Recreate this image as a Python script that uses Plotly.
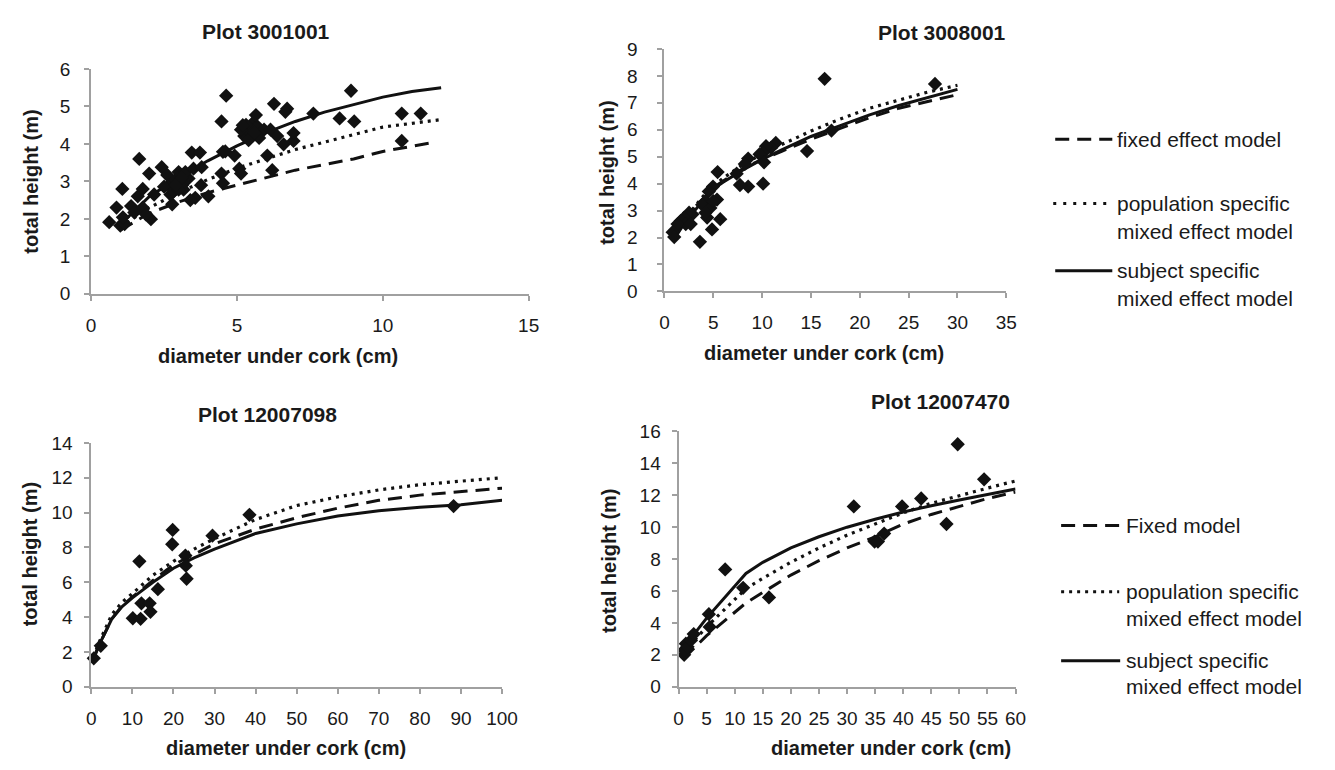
import plotly.graph_objects as go

W, H = 1335, 770
FONT = "Liberation Sans, Arial, sans-serif"
INK = "#111111"
AXC = "#a0a0a0"

def px(x):
    return x / W

def py(y):
    return 1 - y / H

# ---------------- Plot 3001001 ----------------
p1_dia = [0.62, 0.87, 1.07, 1.00, 1.15, 1.09, 1.37, 1.48, 1.65, 1.60, 1.77, 1.77, 1.99, 2.05, 1.88,
          2.16, 2.42, 2.61, 2.78, 2.67, 2.50, 2.72, 2.89, 3.00, 3.12, 3.34, 3.17, 2.83, 3.00, 3.23,
          3.45, 3.73, 3.51, 3.57, 3.79, 3.77, 4.02, 4.47, 4.63, 4.47, 4.52, 4.52, 4.92, 5.08, 5.14,
          5.25, 5.37, 5.53, 5.70, 5.48, 5.31, 5.65, 5.93, 5.76, 5.14, 6.04, 6.21, 6.27, 6.15, 6.38,
          6.60, 6.72, 6.66, 6.94, 6.94, 7.62, 8.52, 8.91, 9.02, 10.65, 10.65, 11.30,
          3.10, 2.90, 5.40, 5.60, 5.20, 3.40, 4.60]
p1_ht = [1.91, 2.30, 2.80, 1.82, 1.86, 2.04, 2.34, 2.17, 3.60, 2.60, 2.80, 2.30, 3.21, 1.99, 2.12,
         2.65, 3.38, 3.17, 2.39, 2.90, 2.86, 2.65, 3.04, 3.25, 2.90, 3.08, 2.78, 2.73, 2.78, 3.25,
         3.77, 3.77, 3.34, 2.56, 3.38, 2.90, 2.60, 4.60, 5.29, 3.21, 2.95, 3.79, 3.69, 3.34, 3.21,
         4.21, 4.38, 4.55, 4.47, 4.29, 4.51, 4.77, 4.38, 4.16, 4.38, 3.69, 3.30, 5.07, 4.38, 4.21,
         3.99, 4.94, 4.86, 4.08, 4.29, 4.81, 4.68, 5.42, 4.60, 4.81, 4.08, 4.81,
         3.10, 2.90, 4.10, 4.30, 4.50, 2.50, 3.80]
p1_line_dia = [1, 2, 3, 4, 5, 6, 7, 8, 9, 10, 11, 12]
p1_subject = [1.85, 2.60, 3.10, 3.55, 3.95, 4.30, 4.60, 4.85, 5.05, 5.25, 5.40, 5.50]
p1_population = [1.78, 2.30, 2.70, 3.05, 3.35, 3.60, 3.85, 4.05, 4.25, 4.45, 4.55, 4.65]
p1_fixed_dia = [1, 2, 3, 4, 5, 6, 7, 8, 9, 10, 11, 11.6]
p1_fixed = [1.70, 2.15, 2.45, 2.70, 2.90, 3.10, 3.30, 3.45, 3.60, 3.80, 3.95, 4.02]

# ---------------- Plot 3008001 ----------------
p2_dia = [16.4, 27.7, 17.1, 14.6, 10.1, 11.4, 10.9, 10.4, 10.1, 9.74, 10.2, 8.57, 8.23, 8.57, 7.73,
          7.39, 5.44, 5.38, 5.71, 4.97, 4.54, 4.20, 3.86, 4.70, 4.37, 4.87, 3.63, 4.20, 2.86, 2.52,
          2.02, 1.68, 2.18, 1.34, 2.69, 0.84, 1.00, 5.00]
p2_ht = [7.89, 7.70, 5.97, 5.21, 4.00, 5.51, 5.33, 5.39, 5.15, 5.09, 4.79, 4.93, 4.73, 3.89, 3.95,
         4.37, 4.43, 3.41, 2.68, 3.89, 3.71, 3.35, 3.22, 3.10, 2.74, 2.30, 1.84, 2.92, 2.86, 2.92,
         2.74, 2.62, 2.50, 2.50, 2.50, 2.20, 2.02, 3.35]
p2_line_dia = [1, 2, 3, 4, 5, 6, 8, 10, 12, 15, 18, 21, 24, 27, 30]
p2_subject = [1.95, 2.50, 2.95, 3.40, 3.80, 4.05, 4.50, 4.90, 5.25, 5.75, 6.15, 6.55, 6.90, 7.20, 7.50]
p2_population = [2.05, 2.65, 3.10, 3.55, 3.90, 4.20, 4.70, 5.10, 5.45, 5.95, 6.40, 6.80, 7.10, 7.40, 7.65]
p2_fixed = [2.00, 2.55, 3.00, 3.45, 3.85, 4.10, 4.55, 4.90, 5.20, 5.65, 6.05, 6.45, 6.80, 7.05, 7.30]

# ---------------- Plot 12007098 ----------------
p3_dia = [0.6, 2.3, 10.1, 12.0, 11.7, 12.2, 14.2, 14.4, 16.2, 19.7, 19.8, 22.9, 23.0, 23.2, 29.5, 38.5, 88.2]
p3_ht = [1.63, 2.35, 3.93, 3.90, 7.20, 4.79, 4.79, 4.30, 5.60, 8.18, 9.00, 7.53, 6.95, 6.20, 8.67, 9.87, 10.37]
p3_line_dia = [0.5, 2, 5, 7.5, 10, 12.5, 15, 20, 25, 30, 40, 50, 60, 70, 80, 90, 100]
p3_subject = [1.60, 2.45, 3.90, 4.60, 5.10, 5.55, 6.00, 6.80, 7.40, 7.90, 8.80, 9.35, 9.80, 10.10, 10.30, 10.45, 10.70]
p3_population = [1.70, 2.60, 4.15, 4.85, 5.35, 5.90, 6.40, 7.20, 7.90, 8.50, 9.60, 10.40, 10.90, 11.30, 11.60, 11.80, 12.00]
p3_fixed = [1.60, 2.45, 3.90, 4.65, 5.15, 5.65, 6.10, 7.00, 7.60, 8.20, 9.05, 9.70, 10.25, 10.70, 11.00, 11.20, 11.40]

# ---------------- Plot 12007470 ----------------
p4_dia = [1.0, 1.0, 1.3, 1.6, 2.2, 2.7, 5.4, 5.55, 8.3, 11.5, 16.1, 31.2, 34.9, 35.5, 36.6, 39.8, 43.2, 47.7, 49.7, 54.4]
p4_ht = [2.0, 2.3, 2.7, 2.5, 2.9, 3.3, 4.55, 3.75, 7.35, 6.2, 5.6, 11.3, 9.1, 9.1, 9.6, 11.3, 11.8, 10.2, 15.2, 13.0]
p4_line_dia = [1, 5, 12, 15, 20, 25, 30, 35, 40, 45, 50, 55, 60]
p4_subject = [2.5, 4.3, 7.1, 7.8, 8.7, 9.4, 10.0, 10.5, 10.95, 11.35, 11.7, 12.05, 12.4]
p4_population = [2.2, 3.75, 6.15, 6.8, 7.8, 8.7, 9.5, 10.2, 10.9, 11.5, 12.0, 12.45, 12.9]
p4_fixed = [1.8, 3.2, 5.25, 5.9, 7.0, 7.9, 8.7, 9.4, 10.2, 10.8, 11.3, 11.8, 12.2]

titles = ["Plot 3001001", "Plot 3008001", "Plot 12007098", "Plot 12007470"]
y_title = "total height (m)"
x_title = "diameter under cork (cm)"
legend_top = ["fixed effect model", "population specific", "mixed effect model",
              "subject specific", "mixed effect model"]
legend_bottom = ["Fixed model", "population specific", "mixed effect model",
                 "subject specific", "mixed effect model"]

panels = [
    dict(dia=p1_dia, ht=p1_ht, fx=p1_fixed_dia, fixed=p1_fixed, lx=p1_line_dia,
         pop=p1_population, subj=p1_subject, ysoff=10,
         xr=[0, 15], xd=5, yr=[0, 6], yd=1, dom=(87.5, 532, 60.7, 291.7)),
    dict(dia=p2_dia, ht=p2_ht, fx=p2_line_dia, fixed=p2_fixed, lx=p2_line_dia,
         pop=p2_population, subj=p2_subject, ysoff=16,
         xr=[0, 35], xd=5, yr=[0, 9], yd=1, dom=(670, 1017.3, 40, 289.3)),
    dict(dia=p3_dia, ht=p3_ht, fx=p3_line_dia, fixed=p3_fixed, lx=p3_line_dia,
         pop=p3_population, subj=p3_subject, ysoff=8,
         xr=[0, 100], xd=10, yr=[0, 14], yd=2, dom=(87.7, 505, 445, 695.7)),
    dict(dia=p4_dia, ht=p4_ht, fx=p4_line_dia, fixed=p4_fixed, lx=p4_line_dia,
         pop=p4_population, subj=p4_subject, ysoff=7,
         xr=[0, 60], xd=5, yr=[0, 16], yd=2, dom=(684.3, 1026.7, 433.3, 695.7)),
]

DASH = "14px,8px"
DOT = "3px,5px"

fig = go.Figure()
layout = dict(width=W, height=H, margin=dict(l=0, r=0, t=0, b=0),
              paper_bgcolor="white", plot_bgcolor="white", showlegend=False,
              font=dict(family=FONT, color="#1a1a1a"))

for i, p in enumerate(panels):
    n = "" if i == 0 else str(i + 1)
    xa, ya = "x" + n, "y" + n
    fig.add_trace(go.Scatter(x=p["fx"], y=p["fixed"], mode="lines", xaxis=xa, yaxis=ya,
                             line=dict(color=INK, width=3, dash=DASH)))
    fig.add_trace(go.Scatter(x=p["lx"], y=p["pop"], mode="lines", xaxis=xa, yaxis=ya,
                             line=dict(color=INK, width=3.2, dash=DOT)))
    fig.add_trace(go.Scatter(x=p["lx"], y=p["subj"], mode="lines", xaxis=xa, yaxis=ya,
                             line=dict(color=INK, width=3)))
    fig.add_trace(go.Scatter(x=p["dia"], y=p["ht"], mode="markers", xaxis=xa, yaxis=ya,
                             cliponaxis=False,
                             marker=dict(symbol="diamond", size=11, color=INK, line=dict(width=0))))
    x0, x1, y0, y1 = p["dom"]
    common = dict(showline=True, linecolor=AXC, linewidth=2, ticks="outside", ticklen=5,
                  tickwidth=2, tickcolor=AXC, showgrid=False, zeroline=False,
                  tickfont=dict(family=FONT, size=19, color="#1a1a1a"))
    layout["xaxis" + n] = dict(domain=[px(x0), px(x1)], anchor=ya, range=p["xr"], dtick=p["xd"],
                               tick0=0, ticklabelstandoff=8, **common)
    layout["yaxis" + n] = dict(domain=[py(y1), py(y0)], anchor=xa, range=p["yr"], dtick=p["yd"],
                               tick0=0, ticklabelstandoff=p["ysoff"], **common)

fig.update_layout(**layout)

ann = []
def text(x, y, s, size, bold=False, angle=0, xanchor="center"):
    ann.append(dict(x=px(x), y=py(y), xref="paper", yref="paper", text=("<b>%s</b>" % s) if bold else s,
                    showarrow=False, textangle=angle, xanchor=xanchor, yanchor="middle",
                    font=dict(family=FONT, size=size, color="#1a1a1a")))

# chart titles
text(265, 22, titles[0], 21, bold=True)
text(952, 23, titles[1], 21, bold=True)
text(267, 416, titles[2], 21, bold=True)
text(950, 402, titles[3], 21, bold=True)
# y titles
text(27, 177, y_title, 20, bold=True, angle=-90)
text(612, 167, y_title, 20, bold=True, angle=-90)
text(25, 560, y_title, 20, bold=True, angle=-90)
text(613, 566, y_title, 20, bold=True, angle=-90)
# x titles
text(277, 356, x_title, 20, bold=True)
text(832, 353, x_title, 20, bold=True)
text(285, 759, x_title, 20, bold=True)
text(900, 759, x_title, 20, bold=True)

shapes = []
def sample(x0, x1, y, dash):
    shapes.append(dict(type="line", xref="paper", yref="paper", x0=px(x0), x1=px(x1),
                       y0=py(y), y1=py(y), line=dict(color=INK, width=3, dash=dash)))

# top legend
sample(1067, 1125, 133, DASH)
text(1128, 133, legend_top[0], 21, xanchor="left")
sample(1065, 1122, 199, "3px,7px")
text(1128, 199, legend_top[1], 21, xanchor="left")
text(1128, 228, legend_top[2], 21, xanchor="left")
sample(1067, 1125, 268, "solid")
text(1128, 268, legend_top[3], 21, xanchor="left")
text(1128, 297, legend_top[4], 21, xanchor="left")
# bottom legend
sample(1073, 1133, 530, DASH)
text(1137, 530, legend_bottom[0], 21, xanchor="left")
sample(1073, 1132, 598, DOT)
text(1137, 598, legend_bottom[1], 21, xanchor="left")
text(1137, 626, legend_bottom[2], 21, xanchor="left")
sample(1073, 1133, 669, "solid")
text(1137, 669, legend_bottom[3], 21, xanchor="left")
text(1137, 695, legend_bottom[4], 21, xanchor="left")

fig.update_layout(annotations=ann, shapes=shapes)
fig.write_html("out.html", config={"displayModeBar": False},
               post_script="document.body.style.margin='0';document.body.style.overflow='hidden';")
